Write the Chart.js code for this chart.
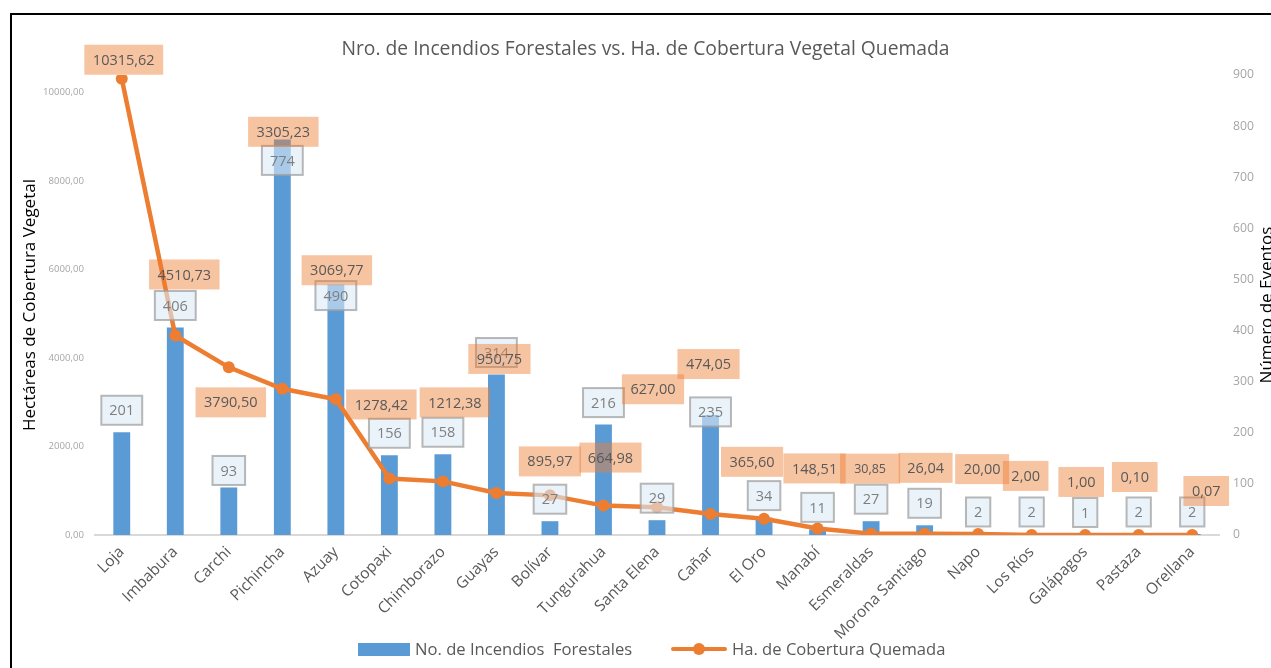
<!DOCTYPE html>
<html>
<head>
<meta charset="utf-8">
<script src="https://cdn.jsdelivr.net/npm/chart.js@4.4.0/dist/chart.umd.min.js"></script>
<style>
  body { margin: 0; background: #fff; font-family: 'Open Sans', sans-serif; }
  #wrap { position: relative; width: 1271px; height: 668px; overflow: hidden; }
  #frame { position: absolute; left: 10px; top: 13px; width: 1400px; height: 800px;
           border-left: 2px solid #000; border-top: 2px solid #000; }
  #chart { position: absolute; left: 0; top: 0; }
  .lg { position: absolute; }
  .lgtxt { position: absolute; top: 638px; font-size: 16.6px; line-height: 22px; color: #595959; white-space: pre; }
</style>
</head>
<body>
<div id="wrap">
  <div id="frame"></div>
  <canvas id="chart" width="1271" height="668"></canvas>
  <div class="lg" style="left:358px;top:643px;width:52px;height:13px;background:#5B9BD5"></div>
  <div class="lgtxt" style="left:415px">No. de Incendios  Forestales</div>
  <div class="lg" style="left:671px;top:647px;width:56px;height:4px;background:#ED7D31;border-radius:2px"></div>
  <div class="lg" style="left:693px;top:643px;width:12px;height:12px;background:#ED7D31;border-radius:50%"></div>
  <div class="lgtxt" style="left:732px">Ha. de Cobertura Quemada</div>
</div>
<script>
// provincias, ordenadas como en el grafico
var provincias = ['Loja', 'Imbabura', 'Carchi', 'Pichincha', 'Azuay', 'Cotopaxi', 'Chimborazo',
  'Guayas', 'Bolívar', 'Tungurahua', 'Santa Elena', 'Cañar', 'El Oro', 'Manabí', 'Esmeraldas',
  'Morona Santiago', 'Napo', 'Los Ríos', 'Galápagos', 'Pastaza', 'Orellana'];

// No. de incendios forestales (eje derecho)
var incendios = [201, 406, 93, 774, 490, 156, 158, 314, 27, 216, 29, 235, 34, 11, 27, 19, 2, 2, 1, 2, 2];

// hectareas de cobertura quemada (eje izquierdo)
var hectareas = [10315.62, 4510.73, 3790.50, 3305.23, 3069.77, 1278.42, 1212.38, 950.75, 895.97,
  664.98, 627.00, 474.05, 365.60, 148.51, 30.85, 26.04, 20.00, 2.00, 1.00, 0.10, 0.07];

var ticksIzq = [0, 2000, 4000, 6000, 8000, 10000];
var ticksDer = [0, 100, 200, 300, 400, 500, 600, 700, 800, 900];

// desplazamientos de las etiquetas (movidas a mano en el original)
var barLabelShift = [0, 0, 5, 43, 33, 0, 0, 0, 0, 0, 0, 19, 0, 0, 0, 0, 0, 0, 0, 0, 0];
var lineLabelDx = [2, 9, 2, 1, 1, -8, 12, 3, 0, 7, -4, -2, -12, -3, -1, 1, 4, -6, -4, -4, 14];
var lineLabelDy = [-19, -61, 35, -257, -129, -74, -79, -134, -34, -48, -118, -150, -57, -60, -65, -66, -65, -59, -53, -58, -44];

function coma(v) {
  return v.toFixed(2).replace('.', ',');
}

var labelPlugin = {
  id: 'boxLabels',
  afterDatasetsDraw: function(chart) {
    var ctx = chart.ctx;
    var lineMeta = chart.getDatasetMeta(0);
    var barMeta = chart.getDatasetMeta(1);
    ctx.save();
    ctx.textAlign = 'center';
    ctx.textBaseline = 'middle';

    // etiquetas de las barras
    ctx.font = '14.5px "Open Sans"';
    for (var i = 0; i < barMeta.data.length; i++) {
      var bar = barMeta.data[i];
      var txt = String(incendios[i]);
      var w = ctx.measureText(txt).width + 16;
      var cx = bar.x;
      var cy = bar.y - 22 + barLabelShift[i];
      ctx.fillStyle = 'rgba(222,235,247,0.6)';
      ctx.fillRect(cx - w / 2, cy - 14.5, w, 29);
      ctx.strokeStyle = 'rgba(160,160,160,0.75)';
      ctx.lineWidth = 2;
      ctx.strokeRect(cx - w / 2, cy - 14.5, w, 29);
      ctx.fillStyle = '#7f7f7f';
      ctx.fillText(txt, cx, cy + 1);
    }

    // etiquetas de la linea
    for (var j = 0; j < lineMeta.data.length; j++) {
      var pt = lineMeta.data[j];
      var t = coma(hectareas[j]);
      ctx.font = (j == 14 ? '12.5px' : '14.5px') + ' "Open Sans"';
      var bw = Math.max(ctx.measureText(t).width + 17, j == 14 ? 60 : 0);
      var lx = pt.x + lineLabelDx[j];
      var ly = pt.y + lineLabelDy[j];
      ctx.fillStyle = 'rgba(237,125,49,0.45)';
      ctx.fillRect(lx - bw / 2, ly - 15, bw, 30);
      ctx.fillStyle = '#595959';
      ctx.fillText(t, lx, ly + 1);
    }
    ctx.restore();
  },
  afterDraw: function(chart) {
    // titulo del eje derecho, leido de abajo hacia arriba
    var ctx = chart.ctx;
    var a = chart.chartArea;
    ctx.save();
    ctx.translate(1267, (a.top + a.bottom) / 2);
    ctx.rotate(-Math.PI / 2);
    ctx.textAlign = 'center';
    ctx.textBaseline = 'middle';
    ctx.font = '17px "Open Sans"';
    ctx.fillStyle = '#000';
    ctx.fillText('Número de Eventos', 0, 0);
    ctx.restore();
  }
};

Chart.defaults.font.family = "'Open Sans', sans-serif";

var chart = new Chart(document.getElementById('chart'), {
  type: 'bar',
  data: {
    labels: provincias,
    datasets: [
      {
        type: 'line',
        label: 'Ha. de Cobertura Quemada',
        data: hectareas,
        yAxisID: 'y',
        borderColor: '#ED7D31',
        backgroundColor: '#ED7D31',
        borderWidth: 4.5,
        pointRadius: 6,
        pointBorderWidth: 0,
        pointBackgroundColor: '#ED7D31',
        tension: 0,
        order: 0
      },
      {
        type: 'bar',
        label: 'No. de Incendios  Forestales',
        data: incendios,
        yAxisID: 'y1',
        backgroundColor: '#5B9BD5',
        barPercentage: 0.315,
        categoryPercentage: 1,
        order: 1
      }
    ]
  },
  options: {
    responsive: false,
    animation: false,
    devicePixelRatio: 1,
    layout: { padding: { left: 20, right: 0, top: 0, bottom: 0 } },
    plugins: {
      legend: { display: false },
      tooltip: { enabled: false },
      title: {
        display: true,
        text: 'Nro. de Incendios Forestales vs. Ha. de Cobertura Vegetal Quemada',
        color: '#595959',
        font: { size: 19.3, weight: 'normal', lineHeight: 1 },
        padding: { top: 40, bottom: 15.7 }
      }
    },
    scales: {
      x: {
        grid: { display: false, drawTicks: false },
        border: { display: true, color: '#D9D9D9', width: 2 },
        ticks: { color: '#595959', font: { size: 15.5 }, maxRotation: 45, minRotation: 45, autoSkip: false, padding: 8 },
        afterFit: function(s) { s.height = 133; }
      },
      y: {
        position: 'left',
        min: 0,
        max: 10400,
        grid: { display: false, drawTicks: false },
        border: { display: false },
        afterBuildTicks: function(s) { s.ticks = ticksIzq.map(function(v) { return { value: v }; }); },
        ticks: {
          color: '#A6A6A6',
          font: { size: 9.6 },
          padding: 11,
          callback: function(v) { return coma(v); }
        },
        title: {
          display: true,
          text: 'Hectáreas de Cobertura Vegetal',
          color: '#000',
          font: { size: 17 },
          padding: { top: 0, bottom: 0 }
        },
        afterFit: function(s) { s.width = 75; }
      },
      y1: {
        position: 'right',
        min: 0,
        max: 900,
        grid: { display: false, drawTicks: false },
        border: { display: false },
        afterBuildTicks: function(s) { s.ticks = ticksDer.map(function(v) { return { value: v }; }); },
        ticks: { color: '#A6A6A6', font: { size: 12.2 }, padding: 14 },
        afterFit: function(s) { s.width = 52; }
      }
    }
  },
  plugins: [labelPlugin]
});
</script>
</body>
</html>
